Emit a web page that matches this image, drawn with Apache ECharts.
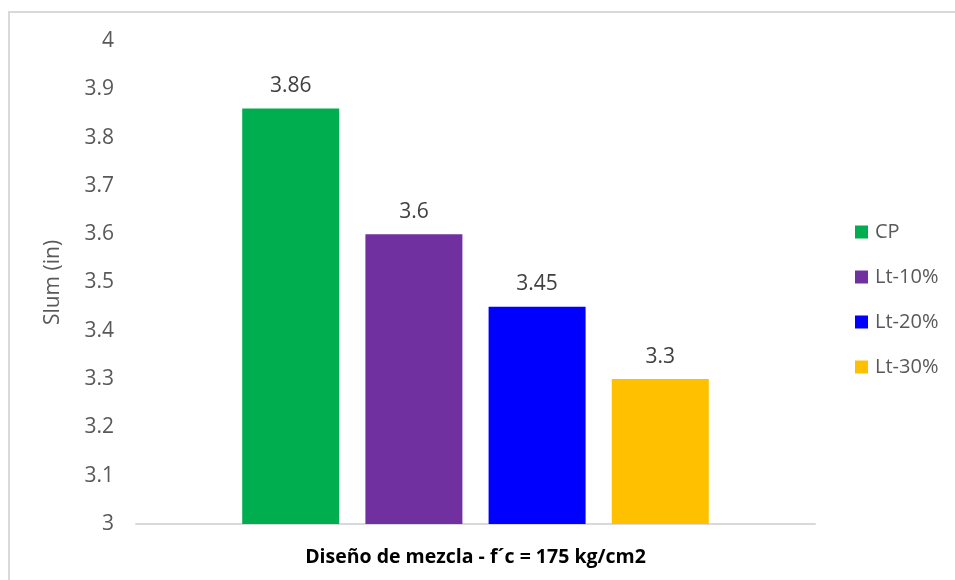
<!DOCTYPE html>
<html>
<head>
<meta charset="utf-8">
<script src="https://cdn.jsdelivr.net/npm/echarts@6/dist/echarts.min.js"></script>
<style>
  html, body { margin: 0; padding: 0; background: #fff; }
  #chart { width: 955px; height: 580px; }
</style>
</head>
<body>
<div id="chart"></div>
<script>
// Slump per mix design
const category = ['Diseño de mezcla - f´c = 175 kg/cm2'];
const seriesNames = ['CP', 'Lt-10%', 'Lt-20%', 'Lt-30%'];
const seriesValues = [3.86, 3.6, 3.45, 3.3];
const seriesColors = ['#00ad4f', '#7030a0', '#0000ff', '#ffc000'];
const yTicks = { min: 3, max: 4, interval: 0.1 };

const FONT = '"Open Sans", "Liberation Sans", sans-serif';
const chart = echarts.init(document.getElementById('chart'), null, { renderer: 'canvas' });

const series = seriesNames.map((name, i) => ({
  name: name,
  type: 'bar',
  data: [seriesValues[i]],
  barWidth: 97,
  barGap: '27%',
  itemStyle: { color: seriesColors[i] },
  label: {
    show: true,
    position: 'top',
    distance: 12,
    color: '#404040',
    fontSize: 21,
    fontFamily: FONT
  }
}));

chart.setOption({
  animation: false,
  backgroundColor: '#ffffff',
  graphic: [{
    type: 'rect',
    shape: { x: 9, y: 12, width: 960, height: 600 },
    style: { fill: 'none', stroke: '#d9d9d9', lineWidth: 2 },
    silent: true
  }],
  grid: { left: 136, right: 140, top: 41, bottom: 56, containLabel: false },
  legend: {
    orient: 'vertical',
    left: 850,
    top: 217,
    itemWidth: 13,
    itemHeight: 13,
    itemGap: 25,
    icon: 'rect',
    textStyle: { color: '#595959', fontSize: 20, fontFamily: FONT, padding: [0, 0, 0, 2] },
    data: seriesNames
  },
  xAxis: {
    type: 'category',
    data: category,
    axisLine: { lineStyle: { color: '#d9d9d9', width: 2 } },
    axisTick: { show: false },
    axisLabel: {
      color: '#000',
      fontSize: 19.5,
      fontWeight: 'bold',
      fontFamily: FONT,
      margin: 23
    }
  },
  yAxis: {
    type: 'value',
    min: yTicks.min,
    max: yTicks.max,
    interval: yTicks.interval,
    name: 'Slum (in)',
    nameLocation: 'middle',
    nameGap: 72,
    nameTextStyle: { color: '#595959', fontSize: 21, fontFamily: FONT },
    splitLine: { show: false },
    axisLine: { show: false },
    axisTick: { show: false },
    axisLabel: {
      color: '#595959',
      fontSize: 21,
      fontFamily: FONT,
      margin: 22,
      formatter: v => String(+v.toFixed(1))
    }
  },
  series: series
});
</script>
</body>
</html>
